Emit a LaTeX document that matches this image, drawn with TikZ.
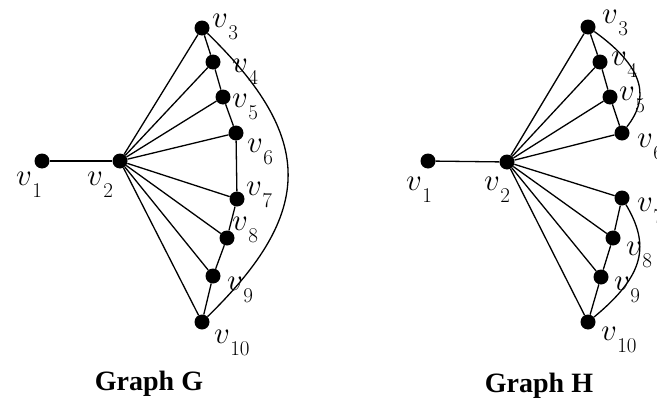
\RequirePackage{fix-cm}
\documentclass[tikz,border=0pt]{standalone}
\usepackage{fontspec}
\newfontfamily\titlefont{Liberation Serif}
\newcommand\vlab[1]{$v$\kern0.3pt\raisebox{-12pt}{\fontsize{21}{21}\selectfont #1}}
\begin{document}
\begin{tikzpicture}[x=1pt,y=-1pt,
  dot/.style={circle,fill=black,draw=none,minimum size=15pt,inner sep=0pt},
  vlabel/.style={anchor=base west,inner sep=0pt,font=\fontsize{31}{33}\selectfont},
  title/.style={anchor=base,inner sep=0pt,font=\titlefont\bfseries\fontsize{28}{30}\selectfont},
  edge/.style={line width=1.3pt}]
\useasboundingbox[fill=white] (0,0) rectangle (657,407);
% ---------- Graph G ----------
\node[dot] (g1) at (42,161) {};
\node[dot] (g2) at (120,161) {};
\node[dot] (g3) at (202,28) {};
\node[dot] (g4) at (213,62) {};
\node[dot] (g5) at (223,97) {};
\node[dot] (g6) at (236,133) {};
\node[dot] (g7) at (237,199) {};
\node[dot] (g8) at (227,238) {};
\node[dot] (g9) at (213,276) {};
\node[dot] (g10) at (202,322) {};
\foreach \i in {3,...,10} {\draw[edge] (g2) -- (g\i);}
\draw[edge] (g1) -- (g2);
\draw[edge] (g3) -- (g4) -- (g5) -- (g6) -- (g7) -- (g8) -- (g9) -- (g10);
\draw[edge] (g3) .. controls (315,138) and (315,212) .. (g10);
\node[vlabel] (lg1) at (16,185) {\vlab{1}};
\node[vlabel] (lg2) at (87,185) {\vlab{2}};
\node[vlabel] (lg3) at (212,27) {\vlab{3}};
\node[vlabel] (lg4) at (232,72) {\vlab{4}};
\node[vlabel] (lg5) at (232,107) {\vlab{5}};
\node[vlabel] (lg6) at (247,152) {\vlab{6}};
\node[vlabel] (lg7) at (246,195) {\vlab{7}};
\node[vlabel] (lg8) at (232,230) {\vlab{8}};
\node[vlabel] (lg9) at (227,290) {\vlab{9}};
\node[vlabel] (lg10) at (214,343) {\vlab{10}};
\node[title] (tg) at (149,390) {Graph G};
% ---------- Graph H ----------
\node[dot] (h1) at (428,161) {};
\node[dot] (h2) at (507,162) {};
\node[dot] (h3) at (588,27) {};
\node[dot] (h4) at (600,62) {};
\node[dot] (h5) at (610,97) {};
\node[dot] (h6) at (622,133) {};
\node[dot] (h7) at (622,198) {};
\node[dot] (h8) at (613,238) {};
\node[dot] (h9) at (601,277) {};
\node[dot] (h10) at (588,322) {};
\foreach \i in {3,...,10} {\draw[edge] (h2) -- (h\i);}
\draw[edge] (h1) -- (h2);
\draw[edge] (h3) -- (h4) -- (h5) -- (h6);
\draw[edge] (h7) -- (h8) -- (h9) -- (h10);
\draw[edge] (h3) .. controls (648,70) and (648,100) .. (h6);
\draw[edge] (h7) .. controls (650,245) and (645,275) .. (h10);
\node[vlabel] (lh1) at (406,190) {\vlab{1}};
\node[vlabel] (lh2) at (484,190) {\vlab{2}};
\node[vlabel] (lh3) at (602,23) {\vlab{3}};
\node[vlabel] (lh4) at (611,65) {\vlab{4}};
\node[vlabel] (lh5) at (619,100) {\vlab{5}};
\node[vlabel] (lh6) at (637,147) {\vlab{6}};
\node[vlabel] (lh7) at (637,211) {\vlab{7}};
\node[vlabel] (lh8) at (626,255) {\vlab{8}};
\node[vlabel] (lh9) at (614,290) {\vlab{9}};
\node[vlabel] (lh10) at (601,340) {\vlab{10}};
\node[title] (th) at (539,392) {Graph H};
\end{tikzpicture}
\end{document}
